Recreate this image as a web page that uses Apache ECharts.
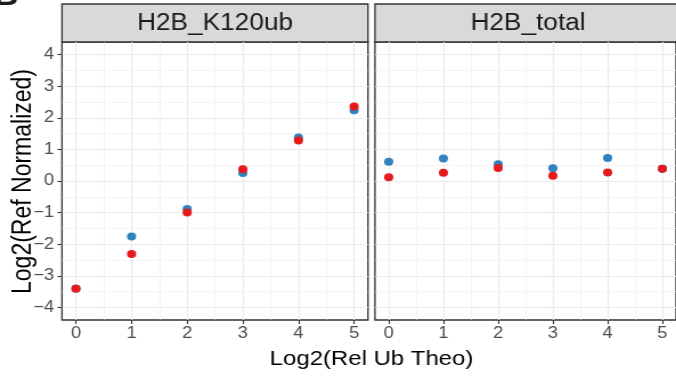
<!DOCTYPE html>
<html>
<head>
<meta charset="utf-8">
<script src="https://cdn.jsdelivr.net/npm/echarts@6/dist/echarts.min.js"></script>
<style>
  html, body { margin: 0; padding: 0; background: #fff; overflow: hidden; }
  #chart { width: 593px; height: 379px; transform-origin: 0 0; }
</style>
</head>
<body>
<div id="chart"></div>
<script>
// data
const xValues = [0, 1, 2, 3, 4, 5];
const k120Blue = [-3.40, -1.76, -0.89, 0.25, 1.38, 2.24];
const k120Red = [-3.41, -2.31, -1.00, 0.37, 1.28, 2.36];
const totalBlue = [0.61, 0.71, 0.53, 0.40, 0.73, 0.39];
const totalRed = [0.12, 0.26, 0.41, 0.17, 0.27, 0.39];

const panelNames = ["H2B_K120ub", "H2B_total"];
const xTicks = [0, 1, 2, 3, 4, 5];
const xMinor = [0.5, 1.5, 2.5, 3.5, 4.5];
const yTicks = [-4, -3, -2, -1, 0, 1, 2, 3, 4];
const yMinor = [-3.5, -2.5, -1.5, -0.5, 0.5, 1.5, 2.5, 3.5];

const BLUE = "#3182BD";
const RED = "#E41A1C";
const FONT = "'Liberation Sans', Arial, Helvetica, sans-serif";

// the reference is slightly stretched sideways, so draw narrow and scale
const S = 676 / 593;
const dom = document.getElementById("chart");
dom.style.transform = "scaleX(" + S + ")";
const px = (v) => v / S;

const panelLeft = [62, 375];
const panelWidth = 306;
const panelTop = 42;
const panelHeight = 278;

const minus = (v) => (v < 0 ? "\u2212" + Math.abs(v) : String(v));
const pairs = (ys) => xValues.map((x, i) => [x, ys[i]]);

const grids = [];
const xAxes = [];
const yAxes = [];
const graphics = [];

panelLeft.forEach((left, g) => {
  grids.push({
    left: px(left),
    top: panelTop,
    width: px(panelWidth),
    height: panelHeight,
    show: true,
    backgroundColor: "#fff",
    borderColor: "#333333",
    borderWidth: 1.3,
  });

  xAxes.push(
    {
      type: "value",
      gridIndex: g,
      min: -0.25,
      max: 5.25,
      position: "bottom",
      axisLine: { show: false, onZero: false },
      axisTick: { customValues: xTicks, length: 4, lineStyle: { color: "#333333", width: 1.1 } },
      axisLabel: { customValues: xTicks, fontSize: 16, color: "#4D4D4D", margin: 6, fontFamily: FONT },
      splitLine: { lineStyle: { color: "#EBEBEB", width: 1.1 } },
    },
    {
      type: "value",
      gridIndex: g,
      min: -0.25,
      max: 5.25,
      position: "top",
      axisLine: { show: false, onZero: false },
      axisLabel: { show: false },
      axisTick: { show: false, customValues: xMinor },
      splitLine: { lineStyle: { color: "#EBEBEB", width: 0.55 } },
    }
  );

  yAxes.push(
    {
      type: "value",
      gridIndex: g,
      min: -4.4,
      max: 4.4,
      position: "left",
      axisLine: { show: false, onZero: false },
      axisTick: { show: g === 0, customValues: yTicks, length: 4, lineStyle: { color: "#333333", width: 1.1 } },
      axisLabel: {
        show: g === 0,
        customValues: yTicks,
        fontSize: 16,
        color: "#4D4D4D",
        margin: 7,
        fontFamily: FONT,
        formatter: minus,
      },
      splitLine: { lineStyle: { color: "#EBEBEB", width: 1.1 } },
    },
    {
      type: "value",
      gridIndex: g,
      min: -4.4,
      max: 4.4,
      position: "right",
      axisLine: { show: false, onZero: false },
      axisLabel: { show: false },
      axisTick: { show: false, customValues: yMinor },
      splitLine: { lineStyle: { color: "#EBEBEB", width: 0.55 } },
    }
  );

  // facet strip
  graphics.push(
    {
      type: "rect",
      shape: { x: px(left), y: 4, width: px(panelWidth), height: panelTop - 4 },
      style: { fill: "#D9D9D9", stroke: "#333333", lineWidth: 1.3 },
    },
    {
      type: "text",
      x: px(left + panelWidth / 2),
      y: 24,
      style: {
        text: panelNames[g],
        font: "23px " + FONT,
        fill: "#1A1A1A",
        align: "center",
        verticalAlign: "middle",
        textAlign: "center",
        textVerticalAlign: "middle",
      },
    }
  );
});

graphics.push(
  {
    type: "text",
    x: px(371.5),
    y: 359,
    style: {
      text: "Log2(Rel Ub Theo)",
      font: "21px " + FONT,
      fill: "#000",
      align: "center",
      verticalAlign: "middle",
      textAlign: "center",
      textVerticalAlign: "middle",
    },
  },
  {
    type: "text",
    x: px(23),
    y: 181.5,
    rotation: Math.PI / 2,
    style: {
      text: "Log2(Ref Normalized)",
      font: "23px " + FONT,
      fill: "#000",
      align: "center",
      verticalAlign: "middle",
      textAlign: "center",
      textVerticalAlign: "middle",
    },
  },
  {
    type: "text",
    x: px(18.5),
    y: -3,
    style: {
      text: "B",
      font: "bold 30px " + FONT,
      fill: "#1A1A1A",
      align: "right",
      verticalAlign: "middle",
      textAlign: "right",
      textVerticalAlign: "middle",
    },
  }
);

const scatter = (name, g, ys, color) => ({
  name: name,
  type: "scatter",
  xAxisIndex: g * 2,
  yAxisIndex: g * 2,
  symbol: "circle",
  symbolSize: 8,
  itemStyle: { color: color, opacity: 1 },
  data: pairs(ys),
});

const myChart = echarts.init(dom, null, { renderer: "canvas" });

const option = {
  animation: false,
  backgroundColor: "#fff",
  grid: grids,
  xAxis: xAxes,
  yAxis: yAxes,
  graphic: graphics,
  series: [
    scatter("K120ub blue", 0, k120Blue, BLUE),
    scatter("K120ub red", 0, k120Red, RED),
    scatter("total blue", 1, totalBlue, BLUE),
    scatter("total red", 1, totalRed, RED),
  ],
};

myChart.setOption(option);
</script>
</body>
</html>
